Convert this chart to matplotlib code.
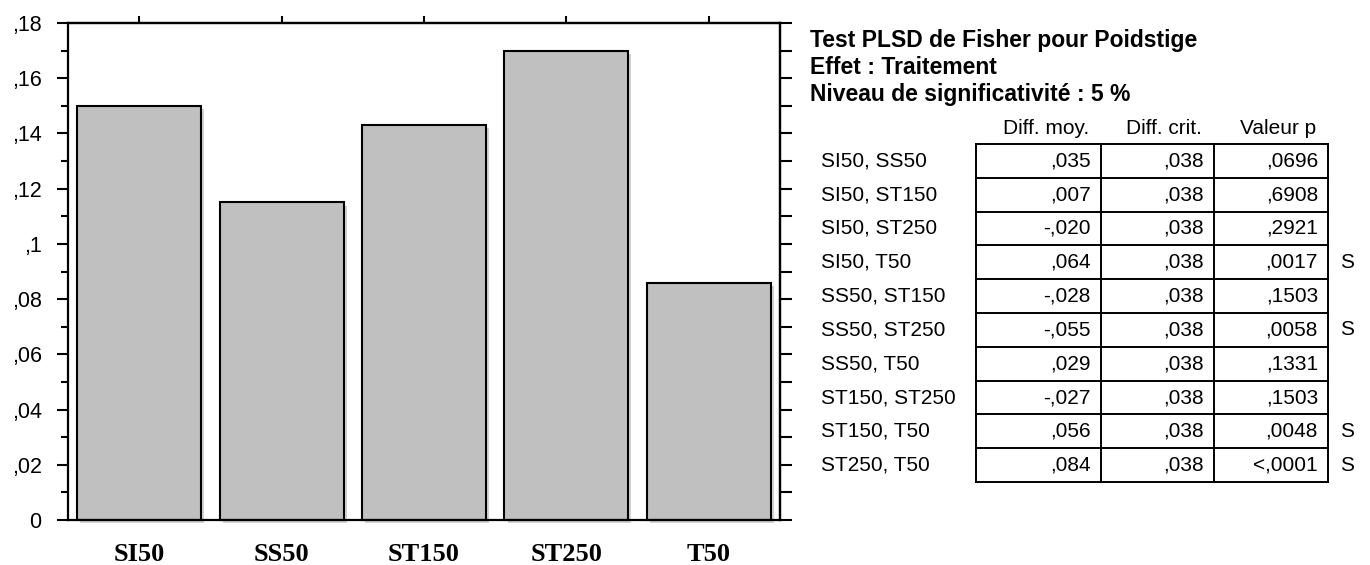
import numpy as np
import matplotlib
matplotlib.use('Agg')
import matplotlib.pyplot as plt
import matplotlib.patheffects as pe
from matplotlib.ticker import FuncFormatter, MultipleLocator

plt.rcParams['font.family'] = 'Liberation Sans'

# bar chart data
traitements = ['SI50', 'SS50', 'ST150', 'ST250', 'T50']
poids = [0.150, 0.115, 0.143, 0.170, 0.086]

# PLSD table data
paires = ['SI50, SS50', 'SI50, ST150', 'SI50, ST250', 'SI50, T50', 'SS50, ST150',
          'SS50, ST250', 'SS50, T50', 'ST150, ST250', 'ST150, T50', 'ST250, T50']
diff_moy = [',035', ',007', '-,020', ',064', '-,028', '-,055', ',029', '-,027', ',056', ',084']
diff_crit = [',038'] * 10
valeur_p = [',0696', ',6908', ',2921', ',0017', ',1503', ',0058', ',1331', ',1503', ',0048', '<,0001']
signif = ['', '', '', 'S', '', 'S', '', '', 'S', 'S']
entetes = ['Diff. moy.', 'Diff. crit.', 'Valeur p']
titre = ['Test PLSD de Fisher pour Poidstige', 'Effet : Traitement',
         'Niveau de significativité : 5 %']

W, H = 1370, 565
fig = plt.figure(figsize=(W / 100, H / 100), dpi=100)
ax = fig.add_axes([68 / W, (H - 520) / H, (780 - 68) / W, (520 - 23) / H])

x = np.arange(len(traitements))
shadow = [pe.SimplePatchShadow(offset=(2.2, -2.2), shadow_rgbFace='#d2d2d2', alpha=1), pe.Normal()]
ax.bar(x, poids, width=0.87, color='#c0c0c0', edgecolor='black', linewidth=1.5,
       clip_on=False, path_effects=shadow, zorder=2)

ax.set_xlim(-0.5, len(traitements) - 0.5)
ax.set_ylim(0, 0.18)
for s in ax.spines.values():
    s.set_linewidth(1.6)
    s.set_zorder(3)


def fmt(v, pos):
    if abs(v) < 1e-9:
        return '0'
    return ('%.2f' % v).rstrip('0').replace('0.', ',')


ax.yaxis.set_major_locator(MultipleLocator(0.02))
ax.yaxis.set_minor_locator(MultipleLocator(0.01))
ax.yaxis.set_major_formatter(FuncFormatter(fmt))
ax.tick_params(axis='y', which='major', direction='out', length=8, width=1.5, pad=11, labelsize=15.5)
ax.tick_params(axis='y', which='minor', direction='out', length=5, width=1.5)
ax.set_xticks(x)
ax.set_xticklabels(traitements, fontfamily='Liberation Serif', fontweight='bold', fontsize=19)
ax.tick_params(axis='x', direction='out', length=2.5, width=1.5, pad=14)

right = ax.secondary_yaxis('right')
right.yaxis.set_major_locator(MultipleLocator(0.01))
right.tick_params(direction='out', length=8.5, width=1.5, labelright=False)
right.spines['right'].set_linewidth(1.6)

top = ax.secondary_xaxis('top')
top.set_xticks(x)
top.tick_params(direction='out', length=5, width=1.5, labeltop=False)
top.spines['top'].set_linewidth(1.6)

# table drawn in pixel coordinates on an overlay axes
tab = fig.add_axes([0, 0, 1, 1])
tab.set_xlim(0, W)
tab.set_ylim(H, 0)
tab.axis('off')

for i, t in enumerate(titre):
    tab.text(810, 40 + i * 27.5, t, fontsize=16.5, fontweight='bold', va='center', ha='left')

cols = [976, 1101, 1214, 1328]
row_top, row_h = 144, 33.8
nrows = len(paires)
for j, h in enumerate(entetes):
    tab.text(cols[j + 1] - 12, 128, h, fontsize=15, ha='right', va='center')

for c in cols:
    tab.plot([c, c], [row_top, row_top + nrows * row_h], color='black', lw=1.4)
for r in range(nrows + 1):
    yy = row_top + r * row_h
    tab.plot([cols[0], cols[-1]], [yy, yy], color='black', lw=1.4)

for r in range(nrows):
    yc = row_top + (r + 0.5) * row_h
    tab.text(821, yc, paires[r], fontsize=15, ha='left', va='center')
    for j, vals in enumerate([diff_moy, diff_crit, valeur_p]):
        tab.text(cols[j + 1] - 10, yc, vals[r], fontsize=15, ha='right', va='center')
    if signif[r]:
        tab.text(1340, yc, signif[r], fontsize=15, ha='left', va='center')

fig.savefig('out.png', dpi=100)
